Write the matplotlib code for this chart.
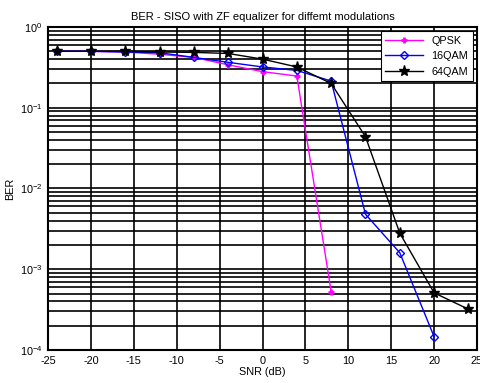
import matplotlib.pyplot as plt
import numpy as np

snr = [-24, -20, -16, -12, -8, -4, 0, 4, 8, 12, 16, 20, 24]

ber_qpsk = [0.50, 0.50, 0.49, 0.46, 0.42, 0.34, 0.28, 0.247, 5.3e-4]
ber_16qam = [0.50, 0.50, 0.49, 0.48, 0.42, 0.365, 0.32, 0.29, 0.214, 4.8e-3, 1.6e-3, 1.46e-4]
ber_64qam = [0.50, 0.50, 0.50, 0.49, 0.485, 0.47, 0.40, 0.32, 0.20, 0.0438, 2.8e-3, 5.1e-4, 3.2e-4]

plt.rcParams['font.family'] = 'Liberation Sans'
plt.rcParams['font.size'] = 7.8
plt.rcParams['axes.unicode_minus'] = False

fig = plt.figure(figsize=(4.81, 3.83), dpi=100)
ax = fig.add_axes([0.0998, 0.0862, 0.8919, 0.8433])

ax.semilogy(snr[:len(ber_qpsk)], ber_qpsk, color='#ff00ff', marker='+', markersize=5,
            markeredgewidth=2, linewidth=1, label='QPSK')
ax.semilogy(snr[:len(ber_16qam)], ber_16qam, color='#0000ff', marker='D', markersize=4,
            markerfacecolor='none', markeredgewidth=1, linewidth=1, label='16QAM')
ax.semilogy(snr, ber_64qam, color='black', marker='*', markersize=8, linewidth=1, label='64QAM')

ax.set_xlim(-25, 25)
ax.set_ylim(1e-4, 1)
ax.set_xticks(np.arange(-25, 26, 5))
ax.grid(True, which='major', color='black', linestyle='-', linewidth=1.2)
ax.grid(True, which='minor', axis='y', color='black', linestyle='-', linewidth=1.2)
ax.tick_params(which='both', direction='in', length=0, labelsize=7.8, pad=4)
for s in ax.spines.values():
    s.set_linewidth(1.5)

ax.set_title('BER - SISO with ZF equalizer for diffemt modulations', fontsize=8, pad=5)
ax.set_xlabel('SNR (dB)', fontsize=7.8, labelpad=1)
ax.set_ylabel('BER', fontsize=7.8, labelpad=3)

leg = ax.legend(loc='upper right', fancybox=False, framealpha=1, edgecolor='black',
                fontsize=7.8, handlelength=3.5, borderaxespad=0.4)
leg.get_frame().set_linewidth(0.8)

fig.savefig('out.png', dpi=100)
